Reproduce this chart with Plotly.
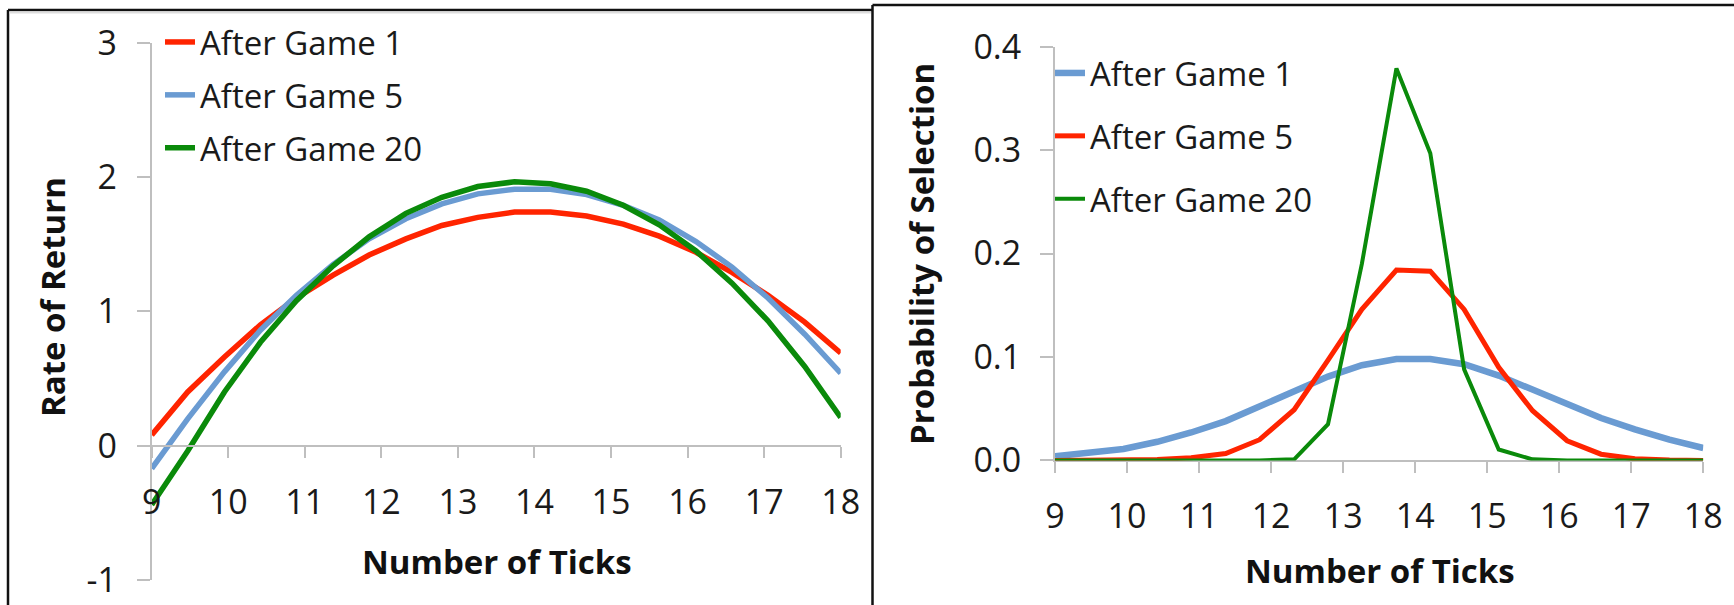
import plotly.graph_objects as go

# Number of ticks sampled for every curve
ticks = [9.0, 9.47, 9.95, 10.42, 10.89, 11.37, 11.84, 12.32, 12.79, 13.26,
         13.74, 14.21, 14.68, 15.16, 15.63, 16.11, 16.58, 17.05, 17.53, 18.0]

# Rate of return by number of ticks
ret_game1 = [0.08, 0.40, 0.66, 0.90, 1.10, 1.27, 1.42, 1.54, 1.64, 1.70,
             1.74, 1.74, 1.71, 1.65, 1.56, 1.44, 1.29, 1.12, 0.92, 0.69]
ret_game5 = [-0.17, 0.20, 0.55, 0.86, 1.12, 1.35, 1.54, 1.69, 1.80, 1.875,
             1.91, 1.91, 1.87, 1.79, 1.68, 1.52, 1.33, 1.10, 0.83, 0.54]
ret_game20 = [-0.44, -0.04, 0.40, 0.77, 1.08, 1.34, 1.555, 1.73, 1.85, 1.93,
              1.965, 1.95, 1.895, 1.79, 1.645, 1.45, 1.21, 0.93, 0.59, 0.21]

# Probability of selecting each number of ticks
prob_game1 = [0.004, 0.007, 0.011, 0.018, 0.027, 0.038, 0.052, 0.067, 0.081, 0.092,
              0.098, 0.098, 0.093, 0.082, 0.068, 0.054, 0.041, 0.030, 0.020, 0.012]
prob_game5 = [0.0, 0.0, 0.0002, 0.0008, 0.0026, 0.0067, 0.020, 0.049, 0.097, 0.146,
              0.184, 0.183, 0.146, 0.090, 0.048, 0.019, 0.006, 0.0015, 0.0003, 0.0]
prob_game20 = [0.0, 0.0, 0.0, 0.0, 0.0, 0.0, 0.0, 0.001, 0.035, 0.19,
               0.379, 0.297, 0.088, 0.0105, 0.001, 0.0, 0.0, 0.0, 0.0, 0.0]

x_ticks = [9, 10, 11, 12, 13, 14, 15, 16, 17, 18]
ret_ticks = [-1, 0, 1, 2, 3]
ret_tick_text = ["-1", "0", "1", "2", "3"]
prob_ticks = [0.0, 0.1, 0.2, 0.3, 0.4]

RED = "#FF2400"
BLUE = "#6A9BD2"
GREEN = "#0A8A0A"
AXIS = "#BFBFBF"
FONT = "Open Sans"

W, H = 1734, 605


def px(x):
    return x / W


def py(y):
    return 1 - y / H


fig = go.Figure()

left = [("After Game 1", ret_game1, RED, 5.5),
        ("After Game 5", ret_game5, BLUE, 5.5),
        ("After Game 20", ret_game20, GREEN, 5.5)]
for i, (name, vals, col, w) in enumerate(left):
    fig.add_trace(go.Scatter(x=ticks, y=vals, mode="lines", name=name,
                             line=dict(color=col, width=w),
                             xaxis="x", yaxis="y", legend="legend",
                             legendgroup=f"l{i}", cliponaxis=False))

right = [("After Game 1", prob_game1, BLUE, 6.5),
         ("After Game 5", prob_game5, RED, 5),
         ("After Game 20", prob_game20, GREEN, 4)]
for i, (name, vals, col, w) in enumerate(right):
    fig.add_trace(go.Scatter(x=ticks, y=vals, mode="lines", name=name,
                             line=dict(color=col, width=w),
                             xaxis="x2", yaxis="y2", legend="legend2",
                             legendgroup=f"r{i}", cliponaxis=False))

tickfont = dict(family=FONT, size=34, color="#1a1a1a")
common = dict(showgrid=False, zeroline=False, showline=True, linecolor=AXIS,
              linewidth=2, ticks="outside", tickcolor=AXIS, tickwidth=2,
              tickfont=tickfont, fixedrange=True, automargin=False)

fig.update_layout(
    width=W, height=H,
    margin=dict(l=0, r=0, t=0, b=0, pad=0, autoexpand=False),
    paper_bgcolor="white", plot_bgcolor="rgba(0,0,0,0)",
    font=dict(family=FONT, color="#1a1a1a"),
    xaxis=dict(domain=[px(151.7), px(840.7)], range=[9, 18], anchor="free",
               position=py(445.7), tickvals=x_ticks, ticklen=11,
               ticklabelstandoff=15, **common),
    yaxis=dict(domain=[py(580.0), py(42.8)], range=[-1, 3], anchor="x",
               tickvals=ret_ticks, ticktext=ret_tick_text, ticklen=13,
               ticklabelstandoff=13, **common),
    xaxis2=dict(domain=[px(1055), px(1703.3)], range=[9, 18], anchor="y2",
                tickvals=x_ticks, ticklen=11, ticklabelstandoff=14,
                layer="below traces", **common),
    yaxis2=dict(domain=[py(460.4), py(46.7)], range=[0, 0.4], anchor="x2",
                tickvals=prob_ticks, tickformat=".1f", ticklen=13,
                ticklabelstandoff=12, layer="below traces", **common),
    legend=dict(x=px(160), y=py(14), xanchor="left", yanchor="top",
                bgcolor="rgba(0,0,0,0)", font=dict(family=FONT, size=33),
                traceorder="grouped", tracegroupgap=7, borderwidth=0),
    legend2=dict(x=px(1050), y=py(45), xanchor="left", yanchor="top",
                 bgcolor="rgba(0,0,0,0)", font=dict(family=FONT, size=33),
                 traceorder="grouped", tracegroupgap=17, borderwidth=0),
    showlegend=True,
)

title_font = dict(family=FONT, size=33, color="#111111", weight="bold")
titles = [
    ("Number of Ticks", 497, 561, 0),
    ("Number of Ticks", 1380, 570, 0),
    ("Rate of Return", 52, 297, -90),
    ("Probability of Selection", 921, 254, -90),
]
for text, tx, ty, ang in titles:
    fig.add_annotation(text=text, x=px(tx), y=py(ty), xref="paper", yref="paper",
                       xanchor="center", yanchor="middle", showarrow=False,
                       textangle=ang, font=title_font)

# Panel frames
frame = dict(color="#111111", width=2.5)
shapes = [
    dict(type="line", x0=px(8), x1=px(872.5), y0=py(10), y1=py(10), line=frame),
    dict(type="line", x0=px(8), x1=px(8), y0=py(10), y1=py(610), line=frame),
    dict(type="line", x0=px(872.5), x1=px(872.5), y0=py(5), y1=py(610), line=frame),
    dict(type="line", x0=px(872.5), x1=px(1740), y0=py(5), y1=py(5), line=frame),
    dict(type="line", x0=px(9.5), x1=px(871), y0=py(12.5), y1=py(12.5),
         line=dict(color="#DDDDDD", width=2)),
]
for s in shapes:
    s.update(xref="paper", yref="paper", layer="above")
fig.update_layout(shapes=shapes)

fig.write_html("out.html")
